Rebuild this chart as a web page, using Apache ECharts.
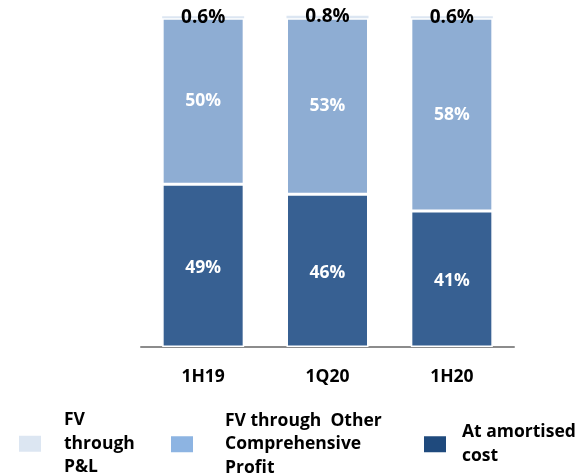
<!DOCTYPE html>
<html>
<head>
<meta charset="utf-8">
<script src="https://cdn.jsdelivr.net/npm/echarts@6/dist/echarts.min.js"></script>
<style>
  html, body { margin: 0; padding: 0; background: #fff; }
  #chart { width: 586px; height: 476px; }
</style>
</head>
<body>
<div id="chart"></div>
<script>
// Portfolio split by accounting category (% of total)
const categories = ['1H19', '1Q20', '1H20'];
const amortisedCost = [49, 46, 41];
const fvOci = [50, 53, 58];
const fvPl = [0.6, 0.8, 0.6];

const seriesNames = ['FV through P&L', 'FV through  Other Comprehensive Profit', 'At amortised cost'];
// Wrapped legend text, one entry per series
const legendText = ['FV\nthrough\nP&L', 'FV through  Other\nComprehensive\nProfit', 'At amortised\ncost'];

const FONT = '"Open Sans", "Noto Sans", sans-serif';
const pct = p => p.value + '%';

function legendFor(i, left, top, gap, padBottom, color) {
  return {
    left: left, top: top, padding: 0, orient: 'vertical',
    itemWidth: 22, itemHeight: 16, icon: 'rect',
    selectedMode: false,
    data: [{ name: seriesNames[i], itemStyle: { color: color, borderWidth: 0 } }],
    formatter: () => legendText[i],
    textStyle: {
      fontFamily: FONT, fontWeight: 'bold', fontSize: 17.5, color: '#000',
      lineHeight: 23.5, padding: [0, 0, padBottom, gap]
    }
  };
}

const chart = echarts.init(document.getElementById('chart'), null, { renderer: 'canvas' });
chart.setOption({
  animation: false,
  backgroundColor: '#fff',
  grid: { left: 141, right: 72, top: 15, bottom: 129, containLabel: false },
  legend: [
    legendFor(0, 19, 403, 18, 11, '#DCE6F2'),
    legendFor(1, 171, 405, 27, 8, '#8DB4E2'),
    legendFor(2, 424, 417, 11, 7.5, '#1F4A7D')
  ],
  xAxis: {
    type: 'category', data: categories,
    axisLine: { lineStyle: { color: '#8c8c8c', width: 2 } },
    axisTick: { show: false },
    axisLabel: { fontFamily: FONT, fontWeight: 'bold', fontSize: 17.5, color: '#000', margin: 21 }
  },
  yAxis: { type: 'value', min: 0, max: 100, show: false, splitLine: { show: false } },
  series: [
    {
      name: seriesNames[2], type: 'bar', stack: 'total', data: amortisedCost, barWidth: 82,
      itemStyle: { color: '#376092', borderColor: '#fff', borderWidth: 1.5 },
      label: { show: true, position: 'inside', offset: [0, 2], formatter: pct, fontFamily: FONT, fontWeight: 'bold', fontSize: 17.5, color: '#fff' }
    },
    {
      name: seriesNames[1], type: 'bar', stack: 'total', data: fvOci, barWidth: 82,
      itemStyle: { color: '#8EADD3', borderColor: '#fff', borderWidth: 1.5 },
      label: { show: true, position: 'inside', formatter: pct, fontFamily: FONT, fontWeight: 'bold', fontSize: 17.5, color: '#fff' }
    },
    {
      name: seriesNames[0], type: 'bar', stack: 'total', data: fvPl, barWidth: 82,
      itemStyle: { color: '#DCE6F2', borderColor: '#fff', borderWidth: 0 },
      label: { show: true, position: 'inside', formatter: pct, fontFamily: FONT, fontWeight: 'bold', fontSize: 19, color: '#000' }
    }
  ]
});
</script>
</body>
</html>
